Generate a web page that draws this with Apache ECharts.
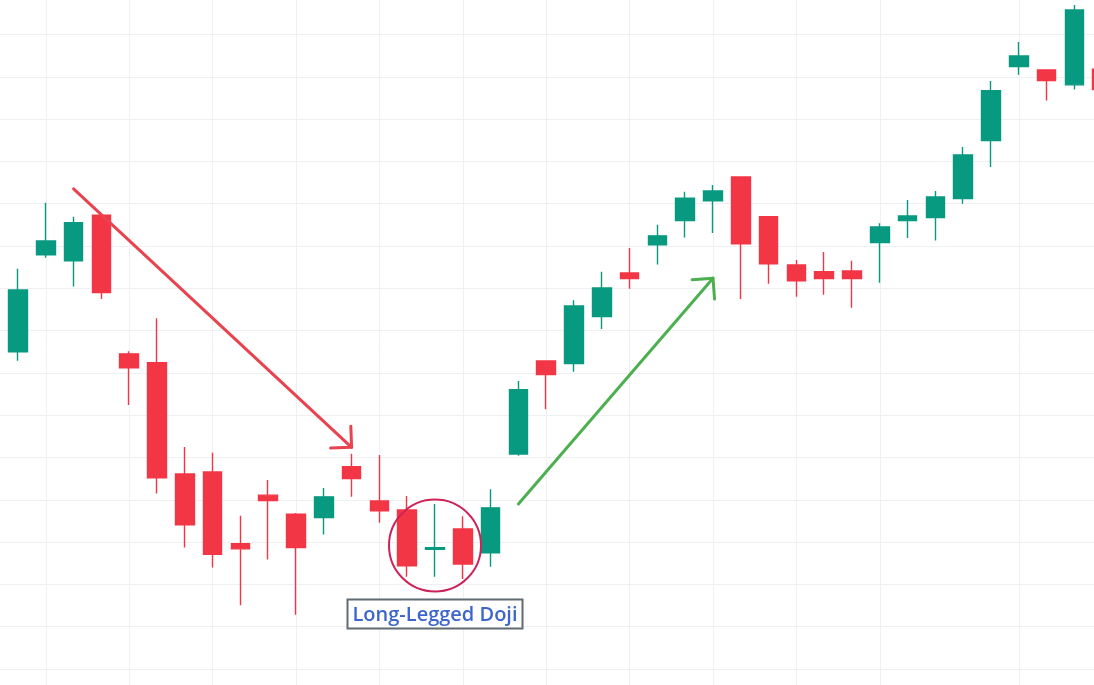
<!DOCTYPE html>
<html>
<head>
<meta charset="utf-8">
<script src="https://cdn.jsdelivr.net/npm/echarts@6/dist/echarts.min.js"></script>
<style>
  html, body { margin: 0; padding: 0; background: #fff; overflow: hidden; width: 1094px; height: 685px; }
  /* chart canvas is a bit larger than the window so the price grid runs off every edge */
  #main { position: absolute; left: -12px; top: -10px; width: 1130px; height: 730px; }
</style>
</head>
<body>
<div id="main"></div>
<script>
// candles: [open, close, low, high]
var categories = [];
for (var k = 1; k <= 40; k++) categories.push('D' + k);

var opens  = [175.0, 197.9, 196.5, 207.3, 174.5, 172.4, 146.1, 146.6, 129.6, 141.1,
              136.6, 135.8, 147.8, 139.7, 137.6, 128.3, 133.1, 127.5, 150.8, 172.8,
              172.2, 183.3, 193.6, 200.3, 206.0, 210.7, 216.3, 206.9, 195.5, 193.9,
              194.1, 200.8, 206.0, 206.7, 211.2, 224.9, 242.4, 241.6, 238.1, 241.8];
var closes = [189.6, 201.2, 205.5, 189.0, 171.2, 145.2, 134.1, 127.1, 128.4, 139.8,
              128.7, 140.7, 145.0, 137.4, 124.4, 128.7, 124.8, 138.1, 166.0, 169.6,
              185.8, 190.1, 192.3, 202.4, 211.3, 213.0, 200.5, 195.8, 191.8, 192.3,
              192.3, 204.5, 207.1, 211.6, 221.5, 236.7, 244.9, 239.1, 255.8, 237.0];
var lows   = [172.9, 197.2, 190.4, 187.5, 162.4, 141.5, 128.7, 124.0, 115.1, 125.9,
              112.8, 131.8, 140.7, 134.6, 121.8, 121.8, 121.3, 124.2, 150.4, 161.4,
              170.3, 180.4, 189.9, 195.6, 202.0, 203.1, 187.5, 191.1, 188.0, 188.5,
              185.4, 191.3, 201.9, 201.3, 210.0, 218.7, 240.5, 234.4, 237.0, 235.7];
var highs  = [194.6, 210.2, 206.9, 207.5, 175.1, 182.9, 152.5, 151.1, 136.2, 144.7,
              136.9, 142.8, 150.9, 150.6, 140.9, 139.0, 136.1, 142.5, 168.1, 173.0,
              187.2, 193.9, 199.5, 205.0, 212.8, 214.4, 216.5, 207.1, 196.7, 198.6,
              196.5, 205.4, 210.9, 213.0, 223.4, 239.0, 248.2, 241.8, 257.0, 242.6];

// vertical grid lines sit on these candles
var gridCandles = [1, 4, 7, 10, 13, 16, 19, 22, 25, 28, 31, 36];

// annotation anchors in data space: [candle index, price]
var downArrow = [[1.85, 213.5], [11.97, 152.4]];
var upArrow = [[17.95, 139.0], [24.97, 192.4]];
var dojiCircle = [15, 129.2];
var dojiLabel = [15.07, 113.0];

var candleData = opens.map(function (o, i) {
  return [o, closes[i], lows[i], highs[i]];
});

var gridColor = '#eef0f3';
var myChart = echarts.init(document.getElementById('main'));

var option = {
  animation: false,
  backgroundColor: '#ffffff',
  grid: [
    { left: 30, right: 15.8, top: 2.2, bottom: 8.7 },   // candles + time grid
    { left: 0, right: 0, top: 2.2, bottom: 8.7 }        // full width price grid
  ],
  xAxis: [
    {
      type: 'category',
      gridIndex: 0,
      data: categories,
      boundaryGap: false,
      axisLine: { show: false },
      axisTick: { show: false },
      axisLabel: { show: false },
      splitLine: {
        show: true,
        interval: function (index) { return gridCandles.indexOf(index) >= 0; },
        lineStyle: { color: gridColor, width: 1 }
      }
    },
    {
      type: 'value',
      gridIndex: 1,
      min: 0,
      max: 1,
      show: false
    }
  ],
  yAxis: [
    {
      type: 'value',
      gridIndex: 0,
      min: 90,
      max: 260,
      interval: 10,
      axisLine: { show: false },
      axisTick: { show: false },
      axisLabel: { show: false },
      splitLine: { show: false }
    },
    {
      type: 'value',
      gridIndex: 1,
      min: 90,
      max: 260,
      interval: 10,
      axisLine: { show: false },
      axisTick: { show: false },
      axisLabel: { show: false },
      splitLine: { show: true, lineStyle: { color: gridColor, width: 1 } }
    }
  ],
  series: [{
    type: 'candlestick',
    xAxisIndex: 0,
    yAxisIndex: 0,
    data: candleData,
    barWidth: 19,
    clip: false,
    z: 5,
    itemStyle: {
      color: '#089981',
      color0: '#f23645',
      borderColor: '#089981',
      borderColor0: '#f23645',
      borderWidth: 1.4
    }
  }]
};

myChart.setOption(option);

function px(p) {
  return myChart.convertToPixel({ gridIndex: 0 }, p);
}

function arrow(a, b, color) {
  var p0 = px(a), p1 = px(b);
  var ang = Math.atan2(p0[1] - p1[1], p0[0] - p1[0]);
  var len = 21, spread = Math.PI / 4;
  var h1 = [p1[0] + len * Math.cos(ang + spread), p1[1] + len * Math.sin(ang + spread)];
  var h2 = [p1[0] + len * Math.cos(ang - spread), p1[1] + len * Math.sin(ang - spread)];
  var style = { stroke: color, lineWidth: 3, lineCap: 'round', lineJoin: 'round', fill: null };
  return [
    { type: 'polyline', shape: { points: [p0, p1] }, style: style, z: 50 },
    { type: 'polyline', shape: { points: [h1, p1, h2] }, style: style, z: 50 }
  ];
}

var c = px(dojiCircle);
var lbl = px(dojiLabel);

var elements = []
  .concat(arrow(downArrow[0], downArrow[1], '#e8434f'))
  .concat(arrow(upArrow[0], upArrow[1], '#4caf50'))
  .concat([
    {
      type: 'circle',
      shape: { cx: c[0], cy: c[1], r: 46 },
      style: { stroke: '#cc2458', lineWidth: 2, fill: null },
      z: 50
    },
    {
      type: 'rect',
      shape: { x: lbl[0] - 87.5, y: lbl[1] - 14.5, width: 175, height: 29 },
      style: { stroke: '#5f6b73', lineWidth: 2, fill: '#ffffff' },
      z: 50
    },
    {
      type: 'text',
      x: lbl[0],
      y: lbl[1] + 1,
      style: {
        text: 'Long-Legged Doji',
        fill: '#3d66cc',
        font: '600 20px "Open Sans"',
        align: 'center',
        verticalAlign: 'middle'
      },
      z: 51
    }
  ]);

myChart.setOption({ graphic: { elements: elements } });
</script>
</body>
</html>
